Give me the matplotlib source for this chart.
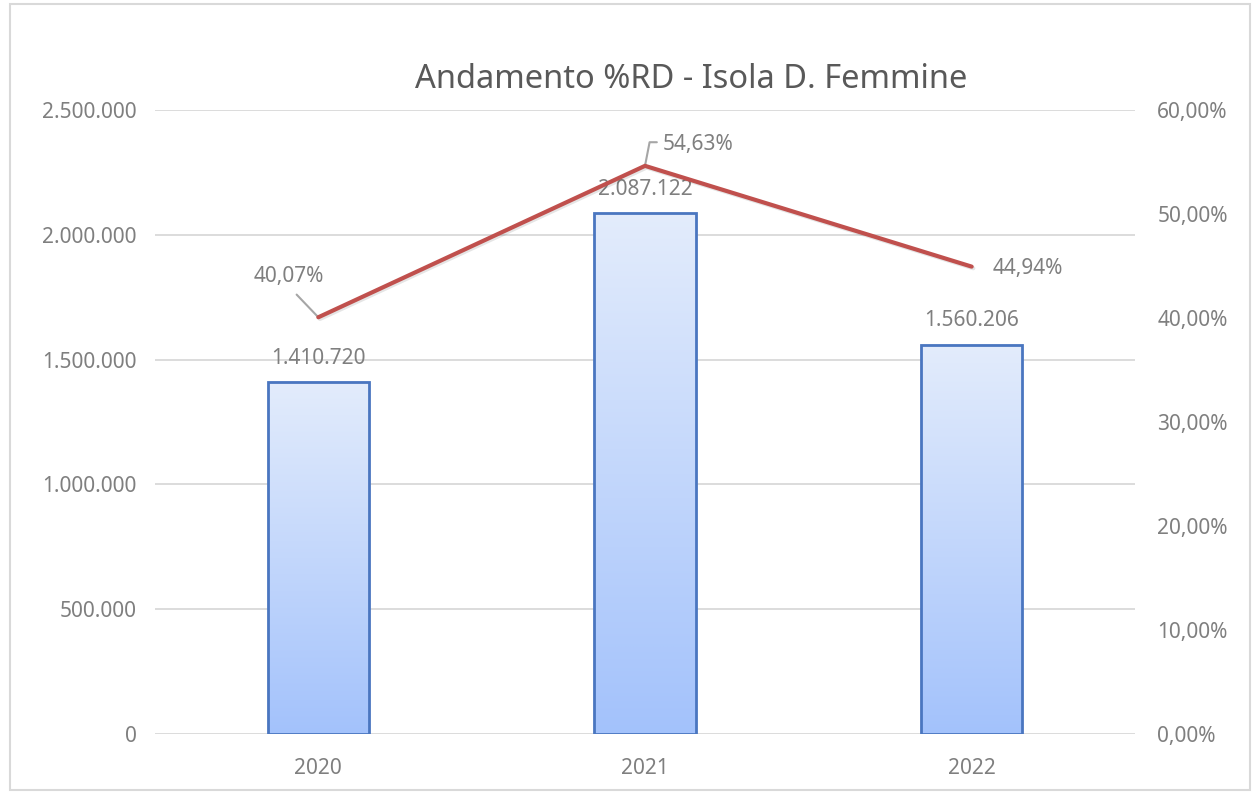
import numpy as np
import matplotlib
matplotlib.use("Agg")
import matplotlib.pyplot as plt
import matplotlib.patheffects as pe
from matplotlib.colors import LinearSegmentedColormap
from matplotlib.patches import Rectangle

# data
years = ["2020", "2021", "2022"]
rd_kg = [1410720, 2087122, 1560206]
rd_pct = [0.4007, 0.5463, 0.4494]

plt.rcParams['font.family'] = ['Noto Sans', 'DejaVu Sans']
grey = '#7f7f7f'
fs = 15

fig = plt.figure(figsize=(12.52, 7.94), dpi=100)
ax = fig.add_axes([155/1252, 60/794, 980/1252, 624/794])

# outer chart border
fig.patches.append(Rectangle((10/1252, 4/794), 1240/1252, 786/794, transform=fig.transFigure,
                             fill=False, edgecolor='#d9d9d9', linewidth=1.5))

x = np.arange(len(years))
w = 0.31
cmap = LinearSegmentedColormap.from_list('bargrad', ['#a3c2fb', '#e3ecfc'])
grad = np.linspace(0, 1, 256).reshape(-1, 1)
for xi, v in zip(x, rd_kg):
    ax.imshow(grad, cmap=cmap, origin='lower', aspect='auto',
              extent=[xi - w/2, xi + w/2, 0, v], zorder=2)
bars = ax.bar(x, rd_kg, width=w, facecolor='none', edgecolor='#4a76c0', linewidth=2, zorder=3)

for xi, v in zip(x, rd_kg):
    lab = f"{v:,}".replace(",", ".")
    ax.annotate(lab, (xi, v), xytext=(0, 17), textcoords='offset points',
                ha='center', va='center', fontsize=fs, color=grey, zorder=4)

ax.set_xlim(-0.5, 2.5)
ax.set_ylim(0, 2500000)
ax.set_yticks(np.arange(0, 2500001, 500000))
ax.set_yticklabels([f"{int(t):,}".replace(",", ".") for t in np.arange(0, 2500001, 500000)])
ax.set_xticks(x)
ax.set_xticklabels(years)
ax.grid(axis='y', color='#d9d9d9', linewidth=1.3, zorder=0)
ax.set_axisbelow(True)
for s in ['top', 'right', 'left', 'bottom']:
    ax.spines[s].set_visible(False)
ax.tick_params(axis='both', length=0, labelsize=fs, labelcolor=grey)
ax.tick_params(axis='y', pad=13)
ax.tick_params(axis='x', pad=17)

ax2 = ax.twinx()
ax2.plot(x, rd_pct, color='#c0504d', linewidth=3, solid_capstyle='round', zorder=5,
         path_effects=[pe.SimpleLineShadow(offset=(1.2, -1.2), alpha=0.1), pe.Normal()])
ax2.set_ylim(0, 0.6)
ax2.set_yticks(np.arange(0, 0.61, 0.1))
ax2.set_yticklabels([f"{t*100:.2f}%".replace(".", ",") for t in np.arange(0, 0.61, 0.1)])
for s in ['top', 'right', 'left', 'bottom']:
    ax2.spines[s].set_visible(False)
ax2.tick_params(axis='y', length=0, labelsize=fs, labelcolor=grey, pad=16)

pct_labels = [f"{p*100:.2f}%".replace(".", ",") for p in rd_pct]
# 2020: label up-left with slanted leader
ax2.annotate(pct_labels[0], (x[0], rd_pct[0]), xytext=(-21, 29.5), textcoords='offset points',
             ha='center', va='center', fontsize=fs, color=grey,
             arrowprops=dict(arrowstyle='-', color='#a6a6a6', lw=1.5, relpos=(0.5, 0),
                             shrinkA=5, shrinkB=0))
# 2021: label up-right with elbow leader
ax2.annotate(pct_labels[1], (x[1], rd_pct[1]), xytext=(38, 15.5), textcoords='offset points',
             ha='center', va='center', fontsize=fs, color=grey,
             arrowprops=dict(arrowstyle='-', color='#a6a6a6', lw=1.5, relpos=(0, 0.6),
                             connectionstyle='angle,angleA=180,angleB=79,rad=0',
                             shrinkA=2, shrinkB=0))
# 2022: label to the right
ax2.annotate(pct_labels[2], (x[2], rd_pct[2]), xytext=(15, -1), textcoords='offset points',
             ha='left', va='center', fontsize=fs, color=grey)

fig.text(691/1252, 1 - 80/794, "Andamento %RD - Isola D. Femmine", ha='center', va='center',
         fontsize=23.5, color='#595959')

fig.savefig("out.png", dpi=100)
